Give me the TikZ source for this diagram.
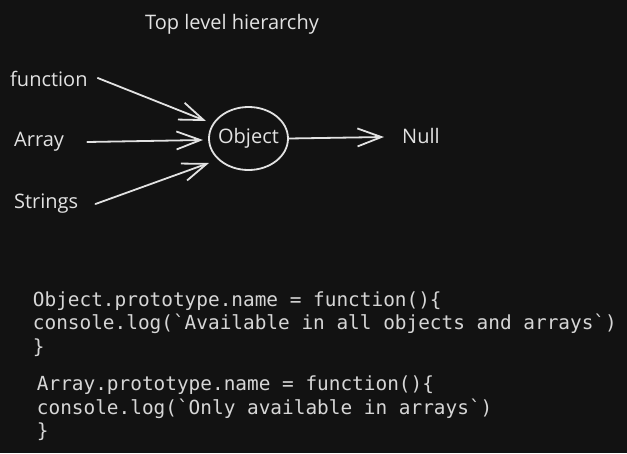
\documentclass[tikz,border=0pt]{standalone}
\usepackage{fontspec}
\setmainfont{Open Sans}
\newfontfamily\codefont{DejaVu Sans Mono}
\usetikzlibrary{arrows.meta,shapes.geometric,calc}
\definecolor{bg}{HTML}{121212}
\definecolor{ink}{HTML}{E2E2E2}
\definecolor{codeink}{HTML}{D6D6D6}
\tikzset{
  hand/.style={inner sep=0pt, anchor=base west, text=ink, font=\fontsize{20}{24}\selectfont},
  codeline/.style={inner sep=0pt, anchor=base west, text=codeink, font=\codefont\fontsize{19.4}{24}\selectfont},
  arr/.style={draw=ink, line width=1.8pt, line cap=round, -{Straight Barb[length=24pt,width=18pt,line width=1.8pt]}},
  circ/.style={ellipse, draw=ink, line width=1.8pt, minimum width=79pt, minimum height=63pt, inner xsep=-14pt, inner ysep=0pt, text=ink, font=\fontsize{20}{24}\selectfont}
}
\begin{document}
\begin{tikzpicture}[x=1pt,y=-1pt]
\fill[bg] (0,0) rectangle (627,453);
\useasboundingbox (0,0) rectangle (627,453);

\node[hand] (title) at (145,29) {Top level hierarchy};
\node[hand] (function) at (10,86) {function};
\node[hand] (array) at (14,146) {Array};
\node[hand] (strings) at (14,208) {Strings};
\node[circ] (object) at (248.5,138.5) {Object};
\node[hand] (null) at (402,143) {Null};

\draw[arr] ($(function.base east)+(10,-8)$) -- ($(object.center)+(-42.5,-17.5)$);
\draw[arr] ($(array.base east)+(23,-4)$) -- ($(object.center)+(-45.5,1.5)$);
\draw[arr] ($(strings.base east)+(17,-4)$) -- ($(object.center)+(-39.5,24.5)$);
\draw[arr] (object.east) -- ($(null.base west)+(-18,-6)$);

\node[codeline] (c1) at (32.7,306) {Object.prototype.name = function()\{};
\node[codeline] (c2) at (32.7,329.5) {console.log(`Available in all objects and arrays`)};
\node[codeline] (c3) at (32.7,353) {\}};
\node[codeline] (c4) at (36.7,390) {Array.prototype.name = function()\{};
\node[codeline] (c5) at (36.7,414) {console.log(`Only available in arrays`)};
\node[codeline] (c6) at (36.7,437.5) {\}};
\end{tikzpicture}
\end{document}
